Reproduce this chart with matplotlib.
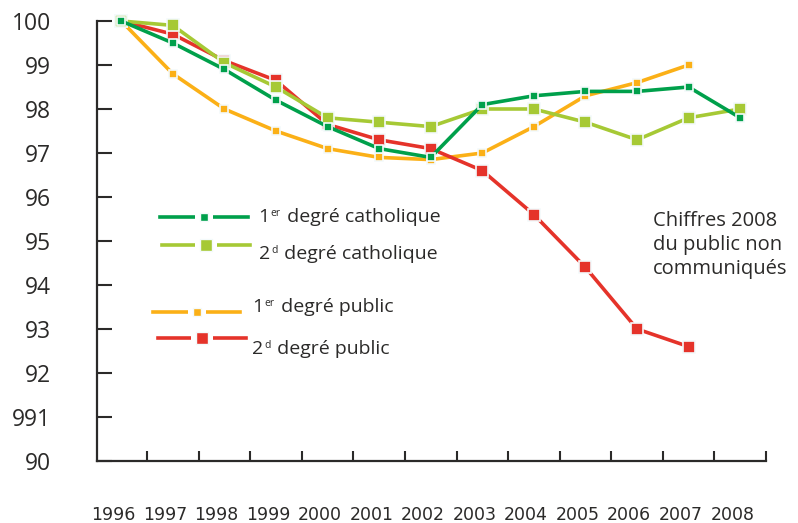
import matplotlib

matplotlib.use("Agg")

import matplotlib.pyplot as plt  # noqa: E402
from matplotlib.lines import Line2D  # noqa: E402
from matplotlib.offsetbox import AnnotationBbox, HPacker, TextArea  # noqa: E402
from matplotlib.transforms import blended_transform_factory  # noqa: E402

years = [1996, 1997, 1998, 1999, 2000, 2001, 2002, 2003, 2004, 2005, 2006, 2007, 2008]
year_labels = [str(y) for y in years]

cath_1er = [100, 99.5, 98.9, 98.2, 97.6, 97.1, 96.9, 98.1, 98.3, 98.4, 98.4, 98.5, 97.8]
cath_2d = [100, 99.9, 99.05, 98.5, 97.8, 97.7, 97.6, 98.0, 98.0, 97.7, 97.3, 97.8, 98.0]
public_1er = [100, 98.8, 98.0, 97.5, 97.1, 96.9, 96.85, 97.0, 97.6, 98.3, 98.6, 99.0]
public_2d = [100, 99.7, 99.1, 98.65, 97.65, 97.3, 97.1, 96.6, 95.6, 94.4, 93.0, 92.6]

y_ticks = [90, 91, 92, 93, 94, 95, 96, 97, 98, 99, 100]
y_tick_labels = ["90", "991", "92", "93", "94", "95", "96", "97", "98", "99", "100"]

DARK_GREEN = "#00a04b"
LIGHT_GREEN = "#a6c935"
ORANGE = "#fbb017"
RED = "#e5332a"
TEXT = "#2b2a29"
HALO = "#f4fafb"

plt.rcParams["font.family"] = ["Open Sans", "DejaVu Sans"]

fig = plt.figure(figsize=(7.98, 5.23), dpi=100)
ax = fig.add_axes([97 / 798, 1 - 461 / 523, (766 - 97) / 798, (461 - 21) / 523])

series = [
    (public_1er, ORANGE, 6),
    (public_2d, RED, 8.5),
    (cath_2d, LIGHT_GREEN, 8.5),
    (cath_1er, DARK_GREEN, 6),
]
for values, color, size in series:
    ax.plot(years[:len(values)], values, color=color, lw=2.6, marker="s", markersize=size,
            markeredgecolor=HALO, markeredgewidth=1.2, clip_on=False)

ax.set_xlim(1995.53, 2008.5)
ax.set_ylim(90, 100)
ax.set_xticks([y + 0.5 for y in years])
ax.set_xticklabels([])
ax.set_yticks(y_ticks)
ax.set_yticklabels(y_tick_labels, fontsize=16.5, color=TEXT)
ax.tick_params(axis="y", direction="in", length=11, width=1.5, pad=33, colors=TEXT)
ax.tick_params(axis="x", direction="in", length=7, width=1.5, colors=TEXT)
for side in ("top", "right"):
    ax.spines[side].set_visible(False)
for side in ("left", "bottom"):
    ax.spines[side].set_linewidth(1.6)
    ax.spines[side].set_color(TEXT)

trans = blended_transform_factory(ax.transData, ax.transAxes)
for year, label in zip(years, year_labels):
    ax.text(year - 0.15, -0.123, label, transform=trans, ha="center", va="center",
            fontsize=12.5, color=TEXT, family=["Liberation Sans Narrow", "DejaVu Sans"])

# legend drawn by hand, entries sit at irregular places in the original
legend_items = [
    (160, 248, 217, 258, 217, DARK_GREEN, 6, "1", "er", " degré catholique"),
    (162, 250, 245, 259, 254, LIGHT_GREEN, 8.5, "2", "d", " degré catholique"),
    (153, 240, 312, 252, 307, ORANGE, 6, "1", "er", " degré public"),
    (158, 246, 338, 252, 349, RED, 8.5, "2", "d", " degré public"),
]
for x0, x1, ly, tx, ty, color, size, num, sup, rest in legend_items:
    yf = 1 - ly / 523
    xm = (x0 + x1) / 2 / 798
    fig.add_artist(Line2D([x0 / 798, x1 / 798], [yf, yf], color=color, lw=2.6,
                          transform=fig.transFigure))
    fig.add_artist(Line2D([xm], [yf], color="white", marker="s", markersize=size + 7,
                          markeredgewidth=0, transform=fig.transFigure))
    fig.add_artist(Line2D([xm], [yf], color=color, marker="s", markersize=size,
                          markeredgecolor=HALO, markeredgewidth=1, transform=fig.transFigure))
    parts = HPacker(children=[
        TextArea(num, textprops=dict(fontsize=14, color=TEXT)),
        TextArea(sup, textprops=dict(fontsize=7.5, color=TEXT)),
        TextArea(rest, textprops=dict(fontsize=14, color=TEXT)),
    ], align="top", pad=0, sep=1)
    fig.add_artist(AnnotationBbox(parts, (tx / 798, 1 - ty / 523), xycoords="figure fraction",
                                  box_alignment=(0, 0.5), frameon=False, pad=0))

fig.text(653 / 798, 1 - 245 / 523, "Chiffres 2008\ndu public non\ncommuniqués", fontsize=14.5,
         color=TEXT, va="center", ha="left", linespacing=1.28)

fig.savefig("out.png", dpi=100)
plt.close(fig)
